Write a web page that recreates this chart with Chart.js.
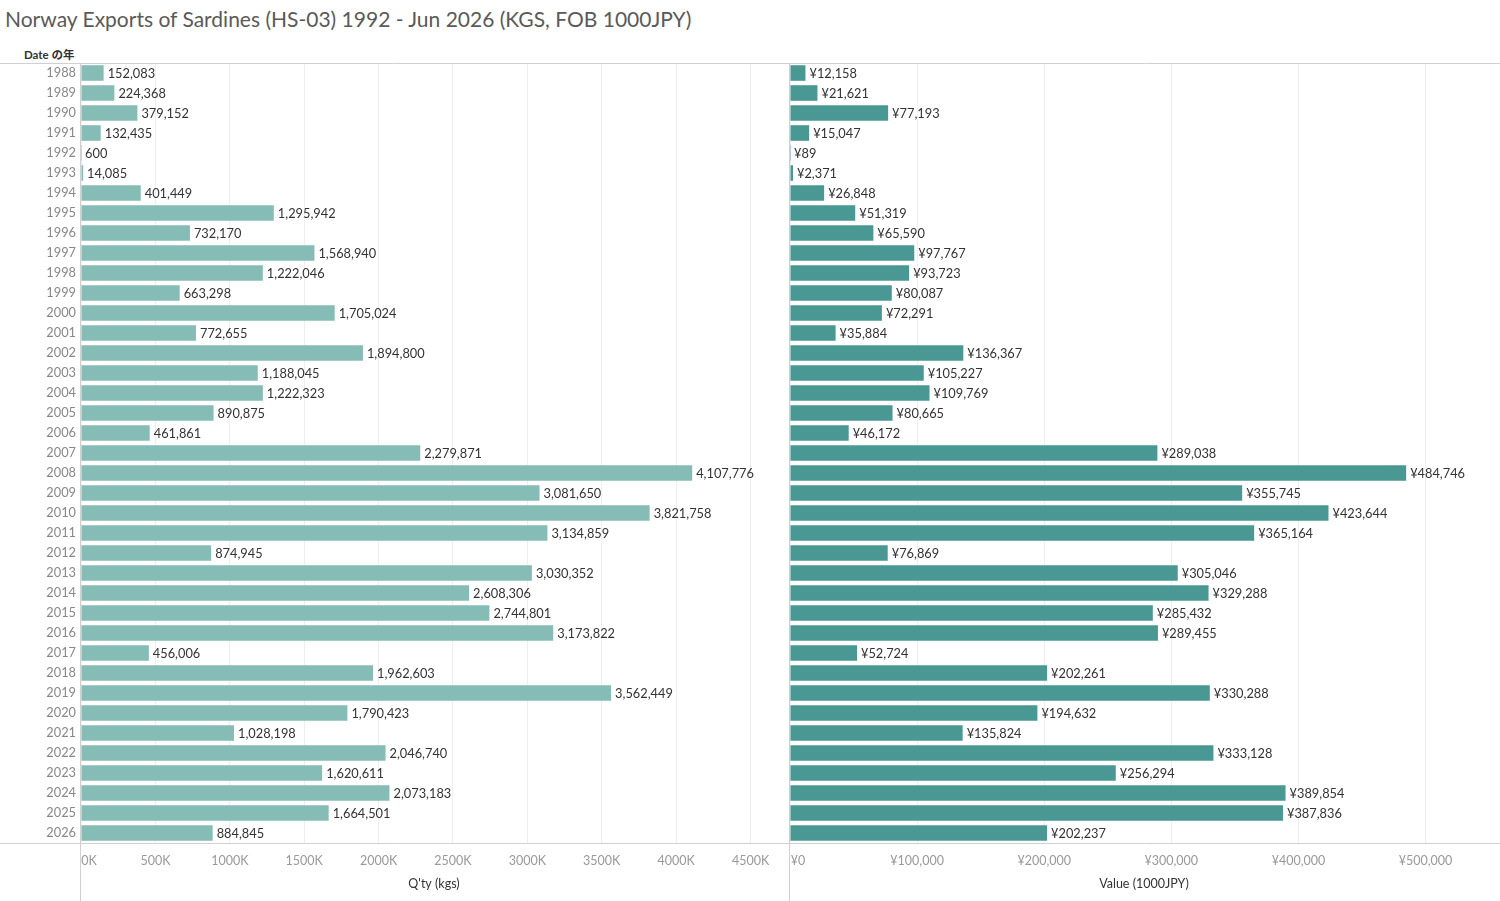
<!DOCTYPE html>
<html>
<head>
<meta charset="utf-8">
<script src="https://cdn.jsdelivr.net/npm/chart.js@4"></script>
<style>
  body { margin: 0; background: #fff; width: 1500px; height: 901px; position: relative; overflow: hidden; font-family: Lato, 'Noto Sans CJK JP', sans-serif; }
  #title { position: absolute; left: 5px; top: 6px; font-size: 21px; color: #5a5a5a; white-space: nowrap; }
  #rowHeader { position: absolute; left: 24px; top: 46px; font-size: 11.5px; font-weight: bold; color: #333; }
  canvas { position: absolute; top: 63px; }
  #qtyChart { left: 0; }
  #valueChart { left: 789px; }
</style>
</head>
<body>
<div id="title">Norway Exports of Sardines (HS-03) 1992 - Jun 2026 (KGS, FOB 1000JPY)</div>
<div id="rowHeader">Date の年</div>
<canvas id="qtyChart" width="789" height="838"></canvas>
<canvas id="valueChart" width="711" height="838"></canvas>
<script>
const years = ['1988','1989','1990','1991','1992','1993','1994','1995','1996','1997','1998','1999','2000','2001','2002','2003','2004','2005','2006','2007','2008','2009','2010','2011','2012','2013','2014','2015','2016','2017','2018','2019','2020','2021','2022','2023','2024','2025','2026'];

const qtyKgs = [152083, 224368, 379152, 132435, 600, 14085, 401449, 1295942, 732170, 1568940, 1222046, 663298, 1705024, 772655, 1894800, 1188045, 1222323, 890875, 461861, 2279871, 4107776, 3081650, 3821758, 3134859, 874945, 3030352, 2608306, 2744801, 3173822, 456006, 1962603, 3562449, 1790423, 1028198, 2046740, 1620611, 2073183, 1664501, 884845];

const value1000Jpy = [12158, 21621, 77193, 15047, 89, 2371, 26848, 51319, 65590, 97767, 93723, 80087, 72291, 35884, 136367, 105227, 109769, 80665, 46172, 289038, 484746, 355745, 423644, 365164, 76869, 305046, 329288, 285432, 289455, 52724, 202261, 330288, 194632, 135824, 333128, 256294, 389854, 387836, 202237];

const qtyTicks = [0, 500000, 1000000, 1500000, 2000000, 2500000, 3000000, 3500000, 4000000, 4500000];
const valueTicks = [0, 100000, 200000, 300000, 400000, 500000];

const fontFamily = "Lato, 'Noto Sans CJK JP', sans-serif";

// scales must not push the plot area around
function noPadding(scale) {
    scale.paddingLeft = 0;
    scale.paddingRight = 0;
    scale.paddingTop = 0;
    scale.paddingBottom = 0;
}

// lines of the table frame
const framePlugin = {
    id: 'frame',
    afterDraw(chart) {
        const { ctx, chartArea: a, width, height } = chart;
        ctx.save();
        ctx.strokeStyle = '#d0d0d0';
        ctx.lineWidth = 1;
        ctx.beginPath();
        ctx.moveTo(0, a.top + 0.5); ctx.lineTo(width, a.top + 0.5);
        ctx.moveTo(0, a.bottom + 0.5); ctx.lineTo(width, a.bottom + 0.5);
        ctx.moveTo(a.left - 0.5, a.top); ctx.lineTo(a.left - 0.5, height);
        ctx.stroke();
        ctx.restore();
    }
};

// value text to the right of each bar
const barLabelPlugin = {
    id: 'barLabels',
    afterDatasetsDraw(chart, args, opts) {
        const { ctx } = chart;
        const ds = chart.data.datasets[0];
        const meta = chart.getDatasetMeta(0);
        ctx.save();
        ctx.font = '12.8px ' + fontFamily;
        ctx.fillStyle = '#333';
        ctx.textAlign = 'left';
        ctx.textBaseline = 'middle';
        meta.data.forEach((bar, i) => {
            ctx.fillText(opts.format(ds.data[i]), bar.x + 4, bar.y + 1);
        });
        ctx.restore();
    }
};

function makeChart(id, values, color, ticks, maxValue, axisTitle, tickFormat, labelFormat, showYears) {
    return new Chart(document.getElementById(id), {
        type: 'bar',
        data: {
            labels: years,
            datasets: [{
                data: values,
                backgroundColor: color,
                barPercentage: 0.78,
                categoryPercentage: 1
            }]
        },
        options: {
            indexAxis: 'y',
            responsive: false,
            animation: false,
            layout: { autoPadding: false, padding: { left: 1, right: 2, top: 0, bottom: 0 } },
            plugins: {
                legend: { display: false },
                tooltip: { enabled: false },
                barLabels: { format: labelFormat }
            },
            scales: {
                y: {
                    display: showYears,
                    grid: { display: false, drawTicks: false },
                    border: { display: false },
                    ticks: { color: '#888', font: { size: 12.8, family: fontFamily }, padding: 5 },
                    afterFit(scale) {
                        if (showYears) scale.width = 80;
                        noPadding(scale);
                    }
                },
                x: {
                    min: 0,
                    max: maxValue,
                    afterBuildTicks(scale) { scale.ticks = ticks.map(v => ({ value: v })); },
                    grid: { color: '#efefef', drawTicks: false },
                    border: { display: false },
                    ticks: {
                        color: '#999',
                        font: { size: 12.5, family: fontFamily },
                        padding: 10,
                        callback: tickFormat
                    },
                    title: {
                        display: true,
                        text: axisTitle,
                        color: '#333',
                        font: { size: 12.5, family: fontFamily },
                        padding: { top: 0, bottom: 10 }
                    },
                    afterFit(scale) {
                        scale.height = 58;
                        noPadding(scale);
                    }
                }
            }
        },
        plugins: [framePlugin, barLabelPlugin]
    });
}

makeChart('qtyChart', qtyKgs, '#86bcb6', qtyTicks, 4745000, "Q'ty (kgs)",
    v => (v === 0 ? '     0K' : (v / 1000) + 'K'),
    v => v.toLocaleString('en-US'), true);

makeChart('valueChart', value1000Jpy, '#499894', valueTicks, 557000, 'Value (1000JPY)',
    v => (v === 0 ? '     ¥0' : '¥' + v.toLocaleString('en-US')),
    v => '¥' + v.toLocaleString('en-US'), false);
</script>
</body>
</html>
